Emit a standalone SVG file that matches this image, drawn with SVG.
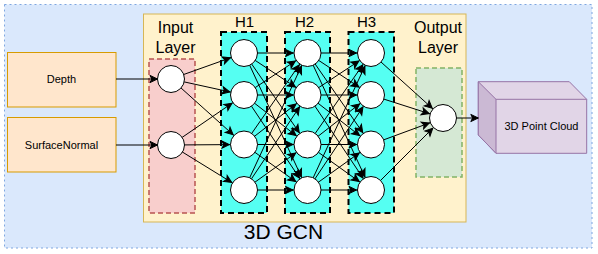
<svg xmlns="http://www.w3.org/2000/svg" width="598" height="254" viewBox="0 0 598 254">
<style>
.lbl{font-family:"Liberation Sans",Arial,sans-serif;fill:#000;text-anchor:middle}
.big{font-size:16px}
.hl{font-size:15px}
.sm{font-size:11px}
.node{fill:#fff;stroke:#000;stroke-width:1}
.layer{fill:#55fff2;stroke:#000;stroke-width:2;stroke-dasharray:6 4}
.e{stroke:#000;stroke-width:1;fill:none;marker-end:url(#ah)}
.e2{stroke:#000;stroke-width:1;fill:none;marker-end:url(#ah0)}
.inp{fill:#ffe6cc;stroke:#d79b00;stroke-width:1}
</style>
<defs>
<marker id="ah" markerUnits="userSpaceOnUse" markerWidth="10" markerHeight="10" refX="0" refY="0" orient="auto" overflow="visible">
<path d="M-14.5,0 L-22,-3.6 L-20.2,0 L-22,3.6 Z" fill="#000" stroke="#000" stroke-width="1"/>
</marker>
<marker id="ah0" markerUnits="userSpaceOnUse" markerWidth="10" markerHeight="10" refX="0" refY="0" orient="auto" overflow="visible">
<path d="M0,0 L-7.5,-3.6 L-5.7,0 L-7.5,3.6 Z" fill="#000" stroke="#000" stroke-width="1"/>
</marker>
</defs>
<g id="container">
<rect x="4.5" y="4.5" width="587.5" height="243.5" fill="#dae8fc" stroke="#7ea6e0" stroke-width="1" stroke-dasharray="2 3"/>
</g>
<g id="gcn">
<rect x="143.5" y="14" width="322.5" height="208" fill="#fff2cc" stroke="#d6b656" stroke-width="1"/>
<text class="lbl" x="283.5" y="239" style="font-size:21px">3D GCN</text>
</g>
<g id="depth">
<rect class="inp" x="7.5" y="52.5" width="108.5" height="54.5"/>
<text class="lbl sm" x="61.5" y="83">Depth</text>
</g>
<g id="surfacenormal">
<rect class="inp" x="7.5" y="117.5" width="108.5" height="54.5"/>
<text class="lbl sm" x="61.5" y="148.5">SurfaceNormal</text>
</g>
<g id="input-layer">
<rect x="149" y="59" width="46" height="154" fill="#f8cecc" stroke="#b85450" stroke-width="1.5" stroke-dasharray="5 3"/>
<text class="lbl big" x="175.5" y="33">Input</text>
<text class="lbl big" x="175.5" y="53">Layer</text>
</g>
<g id="h1-layer">
<rect class="layer" x="221" y="32" width="46" height="181"/>
<text class="lbl hl" x="244.5" y="27">H1</text>
</g>
<g id="h2-layer">
<rect class="layer" x="285" y="32" width="45" height="181"/>
<text class="lbl hl" x="304.5" y="27">H2</text>
</g>
<g id="h3-layer">
<rect class="layer" x="348.5" y="32" width="45.5" height="181"/>
<text class="lbl hl" x="366.5" y="27">H3</text>
</g>
<g id="output-layer">
<rect x="416" y="68" width="46" height="109" fill="#d5e8d4" stroke="#82b366" stroke-width="1.5" stroke-dasharray="5 3"/>
<text class="lbl big" x="438" y="33">Output</text>
<text class="lbl big" x="438" y="53">Layer</text>
</g>
<g id="point-cloud">
<path d="M478.3,81.7 L569.3,81.7 L586.7,99.3 L586.7,153.3 L496,153.3 L478.3,135 Z" fill="#e1d5e7" stroke="#9673a6" stroke-width="1"/>
<path d="M478.3,81.7 L496,99.3 L496,153.3 L478.3,135 Z" fill="#cbb9d4" stroke="#9673a6" stroke-width="1"/>
<path d="M496,99.3 L586.7,99.3" fill="none" stroke="#9673a6" stroke-width="1"/>
<text class="lbl sm" x="541.5" y="130">3D Point Cloud</text>
</g>
<g id="connectors">
<path class="e2" d="M116,79 L157.5,79"/>
<path class="e2" d="M116,145 L157.5,145"/>
<path class="e2" d="M456.5,118 L478.3,118"/>
<path class="e" d="M171,79 L244,53"/>
<path class="e" d="M171,79 L244,95"/>
<path class="e" d="M171,79 L244,144.5"/>
<path class="e" d="M171,145 L244,95"/>
<path class="e" d="M171,145 L244,144.5"/>
<path class="e" d="M171,145 L244,190"/>
<path class="e" d="M244,53 L307.5,53"/>
<path class="e" d="M244,53 L307.5,95"/>
<path class="e" d="M244,53 L307.5,144.5"/>
<path class="e" d="M244,53 L307.5,190"/>
<path class="e" d="M244,95 L307.5,53"/>
<path class="e" d="M244,95 L307.5,95"/>
<path class="e" d="M244,95 L307.5,144.5"/>
<path class="e" d="M244,95 L307.5,190"/>
<path class="e" d="M244,144.5 L307.5,53"/>
<path class="e" d="M244,144.5 L307.5,95"/>
<path class="e" d="M244,144.5 L307.5,144.5"/>
<path class="e" d="M244,144.5 L307.5,190"/>
<path class="e" d="M244,190 L307.5,53"/>
<path class="e" d="M244,190 L307.5,95"/>
<path class="e" d="M244,190 L307.5,144.5"/>
<path class="e" d="M244,190 L307.5,190"/>
<path class="e" d="M307.5,53 L371,53"/>
<path class="e" d="M307.5,53 L371,95"/>
<path class="e" d="M307.5,53 L371,144.5"/>
<path class="e" d="M307.5,53 L371,190"/>
<path class="e" d="M307.5,95 L371,53"/>
<path class="e" d="M307.5,95 L371,95"/>
<path class="e" d="M307.5,95 L371,144.5"/>
<path class="e" d="M307.5,95 L371,190"/>
<path class="e" d="M307.5,144.5 L371,53"/>
<path class="e" d="M307.5,144.5 L371,95"/>
<path class="e" d="M307.5,144.5 L371,144.5"/>
<path class="e" d="M307.5,144.5 L371,190"/>
<path class="e" d="M307.5,190 L371,53"/>
<path class="e" d="M307.5,190 L371,95"/>
<path class="e" d="M307.5,190 L371,144.5"/>
<path class="e" d="M307.5,190 L371,190"/>
<path class="e" d="M371,53 L443,118"/>
<path class="e" d="M371,95 L443,118"/>
<path class="e" d="M371,144.5 L443,118"/>
<path class="e" d="M371,190 L443,118"/>
</g>
<g id="in1"><circle class="node" cx="171" cy="79" r="13.5"/></g>
<g id="in2"><circle class="node" cx="171" cy="145" r="13.5"/></g>
<g id="h1n1"><circle class="node" cx="244" cy="53" r="13.5"/></g>
<g id="h1n2"><circle class="node" cx="244" cy="95" r="13.5"/></g>
<g id="h1n3"><circle class="node" cx="244" cy="144.5" r="13.5"/></g>
<g id="h1n4"><circle class="node" cx="244" cy="190" r="13.5"/></g>
<g id="h2n1"><circle class="node" cx="307.5" cy="53" r="13.5"/></g>
<g id="h2n2"><circle class="node" cx="307.5" cy="95" r="13.5"/></g>
<g id="h2n3"><circle class="node" cx="307.5" cy="144.5" r="13.5"/></g>
<g id="h2n4"><circle class="node" cx="307.5" cy="190" r="13.5"/></g>
<g id="h3n1"><circle class="node" cx="371" cy="53" r="13.5"/></g>
<g id="h3n2"><circle class="node" cx="371" cy="95" r="13.5"/></g>
<g id="h3n3"><circle class="node" cx="371" cy="144.5" r="13.5"/></g>
<g id="h3n4"><circle class="node" cx="371" cy="190" r="13.5"/></g>
<g id="out1"><circle class="node" cx="443" cy="118" r="13.5"/></g>
</svg>
